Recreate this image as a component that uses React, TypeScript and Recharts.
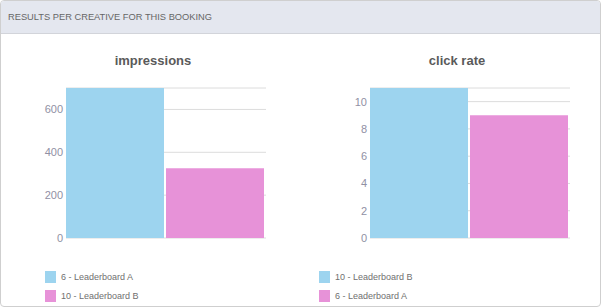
import React from 'react';
import { BarChart, Bar, XAxis, YAxis, CartesianGrid } from 'recharts';

const headerTitle = 'RESULTS PER CREATIVE FOR THIS BOOKING';

const impressionsTitle = 'impressions';
const impressionsSeries = ['6 - Leaderboard A', '10 - Leaderboard B'];
const impressionsValues = [700, 326];
const impressionsTicks = [0, 200, 400, 600];

const clickRateTitle = 'click rate';
const clickRateSeries = ['10 - Leaderboard B', '6 - Leaderboard A'];
const clickRateValues = [11, 9];
const clickRateTicks = [0, 2, 4, 6, 8, 10];

const seriesColors = ['#9dd4ef', '#e792d8'];

const FONT = '"Liberation Sans", Arial, Helvetica, sans-serif';

function buildRow(name: string, values: number[]) {
  const row: Record<string, string | number> = { name };
  values.forEach((v, i) => {
    row['s' + i] = v;
  });
  return row;
}

interface PanelChartProps {
  left: number;
  axisWidth: number;
  rightMargin: number;
  title: string;
  titleLeft: number;
  titleWidth: number;
  series: string[];
  values: number[];
  ticks: number[];
  legendLeft: number;
}

function PanelChart({
  left,
  axisWidth,
  rightMargin,
  title,
  titleLeft,
  titleWidth,
  series,
  values,
  ticks,
  legendLeft,
}: PanelChartProps) {
  const data = [buildRow(title, values)];
  return (
    <>
      <div
        style={{
          position: 'absolute',
          left: titleLeft,
          top: 53,
          width: titleWidth,
          textAlign: 'center',
          fontSize: 13,
          lineHeight: '16px',
          fontWeight: 'bold',
          color: '#5a5a5a',
        }}
      >
        {title}
      </div>
      <div style={{ position: 'absolute', left, top: 40 }}>
        <BarChart
          width={300}
          height={210}
          data={data}
          margin={{ top: 48, right: rightMargin, bottom: 12, left: 0 }}
          barCategoryGap={0}
          barGap={2}
        >
          <CartesianGrid vertical={false} stroke="#dcdcdc" />
          <XAxis dataKey="name" hide padding={{ left: 0, right: 2 }} />
          <YAxis
            width={axisWidth}
            domain={[0, 'dataMax']}
            ticks={ticks}
            axisLine={false}
            tickLine={false}
            tickSize={0}
            tickMargin={3}
            tick={{ fill: '#9090a4', fontSize: 11, fontFamily: FONT }}
          />
          {series.map((s, i) => (
            <Bar
              key={s}
              dataKey={'s' + i}
              name={s}
              fill={seriesColors[i]}
              isAnimationActive={false}
            />
          ))}
        </BarChart>
      </div>
      {series.map((s, i) => (
        <div
          key={s}
          style={{
            position: 'absolute',
            left: legendLeft,
            top: 271 + i * 19,
            height: 12,
            display: 'flex',
            alignItems: 'center',
            fontSize: 9,
            color: '#707070',
            whiteSpace: 'nowrap',
          }}
        >
          <span
            style={{
              display: 'inline-block',
              width: 11,
              height: 12,
              background: seriesColors[i],
              marginRight: 5,
            }}
          />
          {s}
        </div>
      ))}
    </>
  );
}

export default function App() {
  return (
    <div
      style={{
        position: 'absolute',
        left: 0,
        top: 0,
        width: 601,
        height: 307,
        boxSizing: 'border-box',
        border: '1px solid #cfcfcf',
        borderRadius: 4,
        background: '#fff',
        fontFamily: FONT,
        overflow: 'hidden',
      }}
    >
      <div
        style={{
          position: 'absolute',
          left: 0,
          top: 0,
          right: 0,
          height: 33,
          boxSizing: 'border-box',
          background: '#e4e7ef',
          borderBottom: '1px solid #d2d4da',
          paddingLeft: 7,
          lineHeight: '32px',
          fontSize: 9.3,
          color: '#666',
        }}
      >
        {headerTitle}
      </div>
      <div style={{ position: 'absolute', left: -1, top: -1 }}>
        <PanelChart
          left={0}
          axisWidth={66}
          rightMargin={34}
          title={impressionsTitle}
          titleLeft={0}
          titleWidth={306}
          series={impressionsSeries}
          values={impressionsValues}
          ticks={impressionsTicks}
          legendLeft={45}
        />
        <PanelChart
          left={300}
          axisWidth={70}
          rightMargin={30}
          title={clickRateTitle}
          titleLeft={306}
          titleWidth={302}
          series={clickRateSeries}
          values={clickRateValues}
          ticks={clickRateTicks}
          legendLeft={319}
        />
      </div>
    </div>
  );
}
